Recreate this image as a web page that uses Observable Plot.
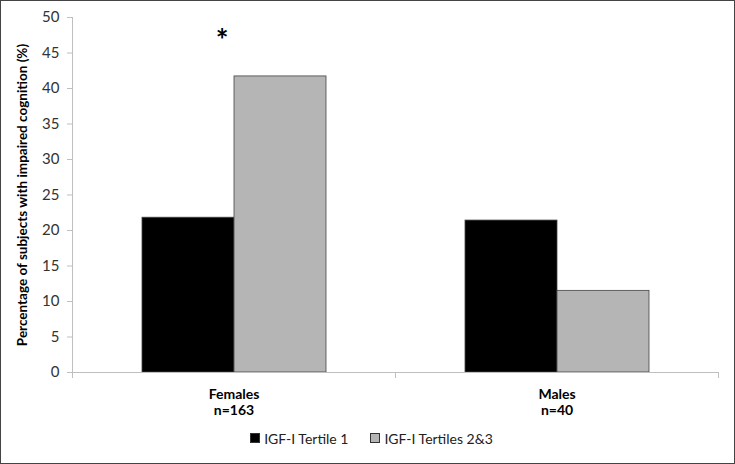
<!DOCTYPE html>
<html>
<head>
<meta charset="utf-8">
<script src="https://cdn.jsdelivr.net/npm/d3@7"></script>
<script src="https://cdn.jsdelivr.net/npm/@observablehq/plot@0.6"></script>
<style>
  html, body { margin: 0; padding: 0; background: #fff; }
  #frame { width: 735px; height: 464px; box-sizing: border-box; border: 1px solid #444; overflow: hidden; font-family: Lato, "Open Sans", sans-serif; }
  #legend { display: flex; justify-content: center; align-items: center; gap: 22px; font-size: 14px; color: #222; height: 34px; padding-left: 8px; }
  #legend .item { display: flex; align-items: center; gap: 4px; }
  #legend .sw { width: 8px; height: 8px; border: 1px solid #333; display: inline-block; }
</style>
</head>
<body>
<div id="frame"><div id="chart"></div><div id="legend"></div></div>
<script>
const categories = ["Females", "Males"];
const sampleSizes = ["n=163", "n=40"];
const series = ["IGF-I Tertile 1", "IGF-I Tertiles 2&3"];
const tertile1 = [21.8, 21.4];
const tertiles23 = [41.7, 11.5];
const colors = ["#000000", "#b5b5b5"];
const yTicks = [0, 5, 10, 15, 20, 25, 30, 35, 40, 45, 50];
const yLabel = "Percentage of subjects with impaired cognition (%)";
const significant = [{group: "Females", series: "IGF-I Tertiles 2&3", mark: "*"}];

const rows = [];
categories.forEach((c, i) => {
  rows.push({group: c, series: series[0], value: tertile1[i]});
  rows.push({group: c, series: series[1], value: tertiles23[i]});
});
const sigRows = significant.map(s => ({...s, value: rows.find(r => r.group === s.group && r.series === s.series).value}));

const plot = Plot.plot({
  width: 733,
  height: 420,
  marginLeft: 70,
  marginRight: 16,
  marginTop: 16,
  marginBottom: 49,
  style: {fontFamily: "Lato, 'Open Sans', sans-serif", background: "#fff"},
  fx: {domain: categories, padding: 0, label: null, axis: null},
  x: {domain: series, paddingInner: 0, paddingOuter: 0.745, axis: null},
  y: {domain: [0, 50], axis: null},
  color: {domain: series, range: colors},
  marks: [
    Plot.frame({anchor: "left", facetAnchor: "left", stroke: "#bfbfbf"}),
    Plot.frame({anchor: "left", stroke: "#bfbfbf", insetTop: 355, insetBottom: -5}),
    Plot.frame({anchor: "right", stroke: "#bfbfbf", insetTop: 355, insetBottom: -5}),
    Plot.axisY({ticks: yTicks, tickSize: 5, tickPadding: 8, stroke: "#bfbfbf", fill: "#333", fontSize: 15, label: null}),
    Plot.axisY({ticks: [], tickSize: 0, fill: "#000", fontSize: 13.5, fontWeight: "bold",
      label: yLabel, labelAnchor: "center", labelArrow: "none", labelOffset: 55}),
    Plot.axisFx({anchor: "bottom", tickSize: 0, tickPadding: 16, fontSize: 14, fontWeight: "bold", fill: "#000", lineHeight: 1.1,
      tickFormat: d => d + "\n" + sampleSizes[categories.indexOf(d)], label: null}),
    Plot.barY(rows, {fx: "group", x: "series", y: "value", fill: "series", stroke: "#444", strokeWidth: 0.8}),
    Plot.ruleY([0], {stroke: "#bfbfbf"}),
    Plot.text(sigRows, {fx: "group", y: "value", text: "mark", fontSize: 30, fontWeight: "bold", lineAnchor: "bottom", dy: -25, dx: -12, fill: "#000"})
  ]
});
document.getElementById("chart").appendChild(plot);

const legend = d3.select("#legend");
series.forEach((s, i) => {
  const it = legend.append("div").attr("class", "item");
  it.append("span").attr("class", "sw").style("background", colors[i]);
  it.append("span").text(s);
});
</script>
</body>
</html>
